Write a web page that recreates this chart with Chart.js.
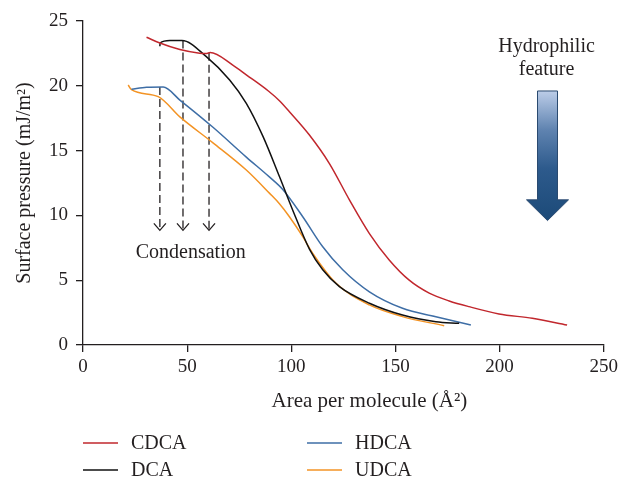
<!DOCTYPE html>
<html>
<head>
<meta charset="utf-8">
<script src="https://cdn.jsdelivr.net/npm/chart.js@4.4.1/dist/chart.umd.min.js"></script>
<style>
  html, body { margin: 0; padding: 0; background: #fff; }
  #wrap { width: 622px; height: 481px; }
</style>
</head>
<body>
<div id="wrap"><canvas id="myChart" width="622" height="481"></canvas></div>
<script>
// isotherm data: area per molecule (Å²) -> surface pressure (mJ/m²)
const seriesNames = ["CDCA", "DCA", "HDCA", "UDCA"];
const seriesColors = ["#c1272d", "#111111", "#3e6ea6", "#f39324"];

const cdcaArea = [30.5, 36.9, 46.5, 56, 59.5, 61, 71.9, 78.4, 89, 94.3, 99.1, 108.7, 118.3, 127.9, 137.5, 147, 156.6, 166.2, 175.8, 185.3, 199.7, 215.7, 232.4];
const cdcaPressure = [23.75, 23.3, 22.8, 22.52, 22.5, 22.56, 21.6, 20.85, 19.6, 18.85, 18.0, 16.2, 14.0, 11.2, 8.6, 6.56, 5.0, 4.0, 3.4, 2.96, 2.4, 2.06, 1.54];

const dcaArea = [36.9, 37.0, 41.7, 47.5, 59.2, 70.4, 78.4, 86.4, 94.3, 100.7, 108.7, 115.1, 123.1, 137.5, 153.4, 169.4, 180.6];
const dcaPressure = [23.05, 23.3, 23.5, 23.5, 22.25, 20.45, 18.65, 16.1, 13.0, 10.4, 7.4, 5.8, 4.5, 3.22, 2.31, 1.8, 1.67];

const hdcaArea = [23.3, 30.5, 38.5, 46.5, 62.4, 78.4, 89.6, 95.9, 105.5, 115.1, 124.7, 137.5, 153.4, 169.4, 186.2];
const hdcaPressure = [19.73, 19.88, 19.9, 18.9, 16.8, 14.5, 12.95, 12.0, 9.9, 7.58, 5.8, 4.1, 2.83, 2.18, 1.54];

const udcaArea = [21.7, 23.3, 36.1, 46.5, 62.4, 78.4, 89.6, 94.3, 99.1, 105.5, 110.3, 121.5, 137.5, 153.4, 173.4];
const udcaPressure = [20.06, 19.7, 19.16, 17.6, 15.6, 13.5, 11.7, 10.9, 9.9, 8.36, 7.07, 4.76, 3.09, 2.19, 1.49];

// condensation markers (dashed arrows)
const condArea = [36.9, 48.0, 60.5];
const condTop = [19.9, 23.5, 22.55];
const condBottom = 8.85;

const xTicks = [0, 50, 100, 150, 200, 250];
const yTicks = [0, 5, 10, 15, 20, 25];

const serif = "'Liberation Serif', 'Times New Roman', serif";
const ink = "#231f20";

function pts(xs, ys) {
  return xs.map((v, i) => ({ x: v, y: ys[i] }));
}

const curveData = [
  pts(cdcaArea, cdcaPressure),
  pts(dcaArea, dcaPressure),
  pts(hdcaArea, hdcaPressure),
  pts(udcaArea, udcaPressure),
];

const datasets = curveData.map((d, i) => ({
  label: seriesNames[i],
  data: d,
  borderColor: seriesColors[i],
  borderWidth: 1.5,
  pointRadius: 0,
  cubicInterpolationMode: "monotone",
  fill: false,
}));

condArea.forEach((a, i) => {
  datasets.push({
    label: "cond" + i,
    data: [{ x: a, y: condTop[i] }, { x: a, y: condBottom }],
    borderColor: ink,
    borderWidth: 1.3,
    borderDash: [8, 4],
    pointRadius: 0,
    isMarker: true,
  });
});

// annotations: arrow heads, text, hydrophilic arrow, legend, x title
const extras = {
  id: "extras",
  afterDatasetsDraw(chart) {
    const { ctx, scales: { x, y }, chartArea } = chart;
    ctx.save();

    // chevrons at the end of the dashed lines
    chart.data.datasets.forEach((ds, i) => {
      if (!ds.isMarker) return;
      const p = chart.getDatasetMeta(i).data[1];
      ctx.strokeStyle = ink;
      ctx.lineWidth = 1.3;
      ctx.beginPath();
      ctx.moveTo(p.x - 6, p.y - 7);
      ctx.lineTo(p.x, p.y);
      ctx.lineTo(p.x + 6, p.y - 7);
      ctx.stroke();
    });

    ctx.fillStyle = ink;
    ctx.font = "20px " + serif;
    ctx.textAlign = "center";
    ctx.textBaseline = "middle";
    ctx.fillText("Condensation", x.getPixelForValue(51.7), y.getPixelForValue(7.1));

    // hydrophilic arrow
    const cx = x.getPixelForValue(223);
    const top = y.getPixelForValue(19.6);
    const base = y.getPixelForValue(11.2);
    const tip = y.getPixelForValue(9.6);
    ctx.fillText("Hydrophilic", cx - 1, y.getPixelForValue(23.05));
    ctx.fillText("feature", cx - 1, y.getPixelForValue(21.2));

    const grad = ctx.createLinearGradient(0, top, 0, tip);
    grad.addColorStop(0, "#bccde8");
    grad.addColorStop(0.3, "#5f83b0");
    grad.addColorStop(0.6, "#2d5a8c");
    grad.addColorStop(1, "#1c4a78");
    ctx.beginPath();
    ctx.moveTo(cx - 10, top);
    ctx.lineTo(cx + 10, top);
    ctx.lineTo(cx + 10, base);
    ctx.lineTo(cx + 21, base);
    ctx.lineTo(cx, tip);
    ctx.lineTo(cx - 21, base);
    ctx.lineTo(cx - 10, base);
    ctx.closePath();
    ctx.fillStyle = grad;
    ctx.fill();
    ctx.strokeStyle = "#2a4a70";
    ctx.lineWidth = 1;
    ctx.stroke();

    // x axis title
    ctx.fillStyle = ink;
    ctx.font = "21px " + serif;
    ctx.fillText("Area per molecule (Å²)", (chartArea.left + chartArea.right) / 2 + 26, 401);

    // legend, two columns
    ctx.font = "20px " + serif;
    ctx.textAlign = "left";
    const slots = [[83, 443], [83, 470], [307, 443], [307, 470]];
    seriesNames.forEach((name, i) => {
      const [lx, ly] = slots[i];
      ctx.strokeStyle = seriesColors[i];
      ctx.lineWidth = 1.5;
      ctx.beginPath();
      ctx.moveTo(lx, ly);
      ctx.lineTo(lx + 35, ly);
      ctx.stroke();
      ctx.fillStyle = ink;
      ctx.fillText(name, lx + 48, ly + 1);
    });

    ctx.restore();
  },
};

const axisGrid = {
  display: true,
  drawOnChartArea: false,
  drawTicks: true,
  tickLength: 7,
  color: ink,
  lineWidth: 1.3,
};

new Chart(document.getElementById("myChart"), {
  type: "line",
  data: { datasets },
  options: {
    responsive: false,
    animation: false,
    layout: { padding: { top: 21, right: 17, bottom: 0, left: 0 } },
    plugins: {
      legend: { display: false },
      tooltip: { enabled: false },
    },
    scales: {
      x: {
        type: "linear",
        min: 0,
        max: 250,
        afterBuildTicks: (s) => { s.ticks = xTicks.map((v) => ({ value: v })); },
        afterFit: (s) => { s.height = 136; },
        grid: axisGrid,
        border: { color: ink, width: 1.3 },
        ticks: { color: ink, font: { family: serif, size: 19 }, padding: 4 },
      },
      y: {
        type: "linear",
        min: 0,
        max: 25,
        afterBuildTicks: (s) => { s.ticks = yTicks.map((v) => ({ value: v })); },
        afterFit: (s) => { s.width = 83; },
        grid: axisGrid,
        border: { color: ink, width: 1.3 },
        ticks: { color: ink, font: { family: serif, size: 19 }, padding: 8 },
        title: {
          display: true,
          text: "Surface pressure (mJ/m²)",
          color: ink,
          font: { family: serif, size: 20 },
          padding: { top: 13, bottom: 0 },
        },
      },
    },
  },
  plugins: [extras],
});
</script>
</body>
</html>
